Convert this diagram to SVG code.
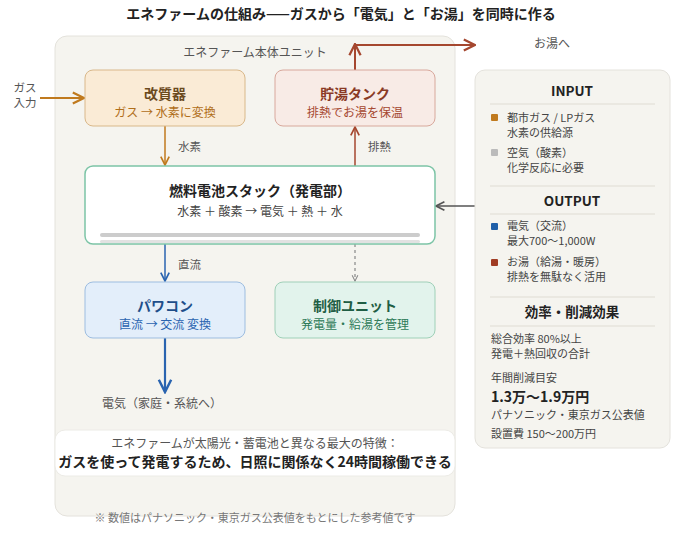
<svg xmlns="http://www.w3.org/2000/svg" width="682" height="535" viewBox="0 0 682 535">
<style>
text{font-family:"Noto Sans CJK JP","Noto Sans",sans-serif;}
.t{font-size:14px;font-weight:bold;text-anchor:middle}
.s{font-size:12px;text-anchor:middle}
.l{font-size:11.5px;fill:#555}
.r{font-size:11px;fill:#444}
.h{font-size:13.5px;font-weight:bold;fill:#222;text-anchor:middle}
.sep{stroke:#e6e4dd;stroke-width:1.5}
</style>
<defs>
<marker id="ao" viewBox="0 0 10 10" refX="9" refY="5" markerWidth="7" markerHeight="7" orient="auto"><path d="M1 1L9 5L1 9" fill="none" stroke="#c07a1e" stroke-width="1.6"/></marker>
<marker id="ar" viewBox="0 0 10 10" refX="9" refY="5" markerWidth="7" markerHeight="7" orient="auto"><path d="M1 1L9 5L1 9" fill="none" stroke="#a5472f" stroke-width="1.6"/></marker>
<marker id="ab" viewBox="0 0 10 10" refX="9" refY="5" markerWidth="7" markerHeight="7" orient="auto"><path d="M1 1L9 5L1 9" fill="none" stroke="#2a64b0" stroke-width="1.6"/></marker>
<marker id="ag" viewBox="0 0 10 10" refX="9" refY="5" markerWidth="7" markerHeight="7" orient="auto"><path d="M1 1L9 5L1 9" fill="none" stroke="#555" stroke-width="1.6"/></marker>
<marker id="ad" viewBox="0 0 10 10" refX="9" refY="5" markerWidth="6" markerHeight="6" orient="auto"><path d="M1 1L9 5L1 9" fill="none" stroke="#888" stroke-width="1.4"/></marker>
</defs>
<rect width="682" height="535" fill="#fff"/>
<text x="341" y="19" class="t" fill="#222">エネファームの仕組み——ガスから「電気」と「お湯」を同時に作る</text>
<g id="unit">
<rect x="55" y="36" width="400" height="480" rx="12" fill="#f5f4ef" stroke="#e4e2dc"/>
<text x="255" y="57" class="s" fill="#555">エネファーム本体ユニット</text>
</g>
<g id="connectors" fill="none">
<path d="M40 98H84" stroke="#c07a1e" stroke-width="2" marker-end="url(#ao)"/>
<path d="M165 126V165" stroke="#c07a1e" stroke-width="1.5" marker-end="url(#ao)"/>
<path d="M355 166V127" stroke="#a5472f" stroke-width="1.5" marker-end="url(#ar)"/>
<path d="M355 70V45H475" stroke="#a5472f" stroke-width="2" marker-end="url(#ar)"/>
<path d="M355 45V44" stroke="#a5472f" stroke-width="2" marker-end="url(#ar)"/>
<path d="M165 244V281" stroke="#2a64b0" stroke-width="1.5" marker-end="url(#ab)"/>
<path d="M355 244V281" stroke="#888" stroke-width="1.2" stroke-dasharray="3 3" marker-end="url(#ad)"/>
<path d="M165 338V392" stroke="#2a64b0" stroke-width="2.2" marker-end="url(#ab)"/>
<path d="M475 206H436" stroke="#555" stroke-width="1.5" marker-end="url(#ag)"/>
<text x="25" y="92" font-size="11.5" text-anchor="middle" fill="#555">ガス</text>
<text x="25" y="107" font-size="11.5" text-anchor="middle" fill="#555">入力</text>
<text x="178" y="151" class="l">水素</text>
<text x="368" y="151" class="l">排熱</text>
<text x="178" y="269" class="l">直流</text>
<text x="552" y="48" class="s" fill="#555">お湯へ</text>
<text x="162" y="408" class="s" fill="#555">電気（家庭・系統へ）</text>
</g>
<g id="reformer">
<rect x="85" y="70" width="160" height="56" rx="8" fill="#faebd6" stroke="#d9b88a"/>
<text x="165" y="99" class="t" fill="#6b4a1e">改質器</text>
<text x="165" y="117" class="s" fill="#b06e1a">ガス → 水素に変換</text>
</g>
<g id="tank">
<rect x="275" y="70" width="160" height="56" rx="8" fill="#f8ebe6" stroke="#d8a89c"/>
<text x="355" y="99" class="t" fill="#8a3a25">貯湯タンク</text>
<text x="355" y="117" class="s" fill="#a5472f">排熱でお湯を保温</text>
</g>
<g id="stack">
<rect x="85" y="166" width="350" height="78" rx="8" fill="#fff" stroke="#7cc4a6" stroke-width="1.5"/>
<text x="260" y="196" class="t" fill="#222">燃料電池スタック（発電部）</text>
<text x="260" y="216" class="s" fill="#444">水素 ＋ 酸素 → 電気 ＋ 熱 ＋ 水</text>
<rect x="100" y="233" width="320" height="4" rx="2" fill="#ccc"/>
<rect x="100" y="240" width="320" height="3" rx="1.5" fill="#e2e2e2"/>
</g>
<g id="pcs">
<rect x="85" y="282" width="160" height="56" rx="8" fill="#e3eefa" stroke="#9dbde0"/>
<text x="165" y="311" class="t" fill="#1f4e8a">パワコン</text>
<text x="165" y="329" class="s" fill="#2a64b0">直流 → 交流 変換</text>
</g>
<g id="control">
<rect x="275" y="282" width="160" height="56" rx="8" fill="#e2f3ec" stroke="#9fd0b8"/>
<text x="355" y="311" class="t" fill="#1f5e45">制御ユニット</text>
<text x="355" y="329" class="s" fill="#2d7a58">発電量・給湯を管理</text>
</g>
<g id="note">
<rect x="55" y="430" width="400" height="46" rx="10" fill="#fff" stroke="#ecebe6"/>
<text x="255" y="448" class="s" fill="#555">エネファームが太陽光・蓄電池と異なる最大の特徴：</text>
<text x="255" y="467" class="t" fill="#222">ガスを使って発電するため、日照に関係なく24時間稼働できる</text>
</g>
<text x="255" y="522" font-size="11" fill="#777" text-anchor="middle">※ 数値はパナソニック・東京ガス公表値をもとにした参考値です</text>
<g id="legend">
<rect x="475" y="70" width="195" height="378" rx="10" fill="#f5f4ef" stroke="#e4e2dc"/>
<text x="572" y="96" class="h">INPUT</text>
<line x1="490" y1="104" x2="655" y2="104" class="sep"/>
<rect x="491" y="114" width="7" height="7" rx="1" fill="#c07a1e"/>
<text x="507" y="122" class="r">都市ガス / LPガス</text>
<text x="507" y="137" class="r">水素の供給源</text>
<rect x="491" y="149" width="7" height="7" rx="1" fill="#bbb"/>
<text x="507" y="157" class="r">空気（酸素）</text>
<text x="507" y="172" class="r">化学反応に必要</text>
<line x1="490" y1="186" x2="655" y2="186" class="sep"/>
<text x="572" y="206" class="h">OUTPUT</text>
<line x1="490" y1="214" x2="655" y2="214" class="sep"/>
<rect x="491" y="223" width="7" height="7" rx="1" fill="#1f5fa8"/>
<text x="507" y="230" class="r">電気（交流）</text>
<text x="507" y="245" class="r">最大700〜1,000W</text>
<rect x="491" y="259" width="7" height="7" rx="1" fill="#a03c24"/>
<text x="507" y="266" class="r">お湯（給湯・暖房）</text>
<text x="507" y="281" class="r">排熱を無駄なく活用</text>
<line x1="490" y1="297" x2="655" y2="297" class="sep"/>
<text x="572" y="317" class="h">効率・削減効果</text>
<line x1="490" y1="326" x2="655" y2="326" class="sep"/>
<text x="491" y="343" class="r">総合効率 80%以上</text>
<text x="491" y="358" class="r">発電＋熱回収の合計</text>
<text x="491" y="382" class="r">年間削減目安</text>
<text x="491" y="402" font-size="14" font-weight="bold" fill="#222">1.3万〜1.9万円</text>
<text x="491" y="419" class="r">パナソニック・東京ガス公表値</text>
<text x="491" y="438" class="r">設置費 150〜200万円</text>
</g>
</svg>
